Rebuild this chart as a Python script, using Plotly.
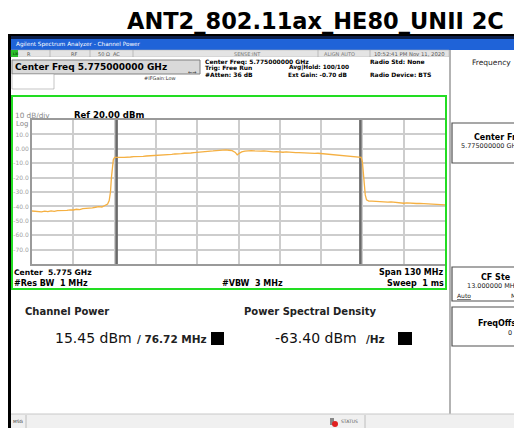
import plotly.graph_objects as go

# The page body has an 8px margin, so the figure is drawn 8px in from the
# window's top-left corner; all layout numbers below are window pixels.
OFF = 8
W, H = 522 - OFF, 428 - OFF

# ---------------- data ----------------
start_ghz = 5.710
stop_ghz = 5.840
center_ghz = 5.775
integ_bw_mhz = 76.72
ref_level = 20
bottom_level = -80

freq_offset_mhz = [
    0, 1, 2, 3, 4, 5, 6, 7, 8, 9, 10, 11, 12, 13, 14, 15, 16, 17, 18, 19, 20,
    21, 22, 23, 23.8, 24.3, 24.7, 25.0, 25.3, 25.6, 26.0, 27, 28, 29, 30, 31,
    32, 33, 34, 35, 36, 37, 38, 39, 40, 41, 42, 43, 44, 45, 46, 47, 48, 49, 50,
    51, 52, 53, 54, 55, 56, 57, 58, 59, 60, 61, 62, 63, 64, 64.6, 65.2, 66, 67,
    68, 69, 70, 71, 72, 73, 74, 75, 76, 77, 78, 79, 80, 81, 82, 83, 84, 85, 86,
    87, 88, 89, 90, 91, 92, 93, 94, 95, 96, 97, 98, 99, 100, 101, 102, 103,
    103.6, 104.0, 104.3, 104.6, 104.9, 105.3, 106, 107, 108, 109, 110, 111,
    112, 113, 114, 115, 116, 117, 118, 119, 120, 121, 122, 123, 124, 125, 126,
    127, 128, 129, 130,
]
level_dbm = [
    -43.2, -43.5, -43.4, -43.8, -43.3, -43.6, -43.1, -43.4, -42.9, -43.0,
    -42.6, -42.8, -42.4, -42.5, -42.0, -42.2, -41.6, -41.4, -41.7, -41.0,
    -40.6, -40.2, -40.4, -39.3, -38.4, -36.0, -30.0, -20.0, -12.0, -7.5,
    -6.0, -6.2, -5.9, -6.0, -5.6, -5.7, -5.4, -5.5, -5.2, -5.3, -5.0, -4.9,
    -4.8, -4.5, -4.6, -4.3, -4.2, -4.0, -3.9, -3.6, -3.7, -3.3, -3.1, -3.2,
    -2.9, -2.6, -2.5, -2.2, -2.0, -1.9, -1.6, -1.5, -1.2, -1.0, -1.1, -0.8,
    -1.0, -1.3, -2.5, -4.2, -3.2, -2.2, -1.6, -1.3, -1.2, -1.5, -1.3, -1.6,
    -1.5, -1.8, -1.9, -2.1, -2.0, -2.3, -2.4, -2.2, -2.5, -2.4, -2.7, -2.6,
    -2.8, -2.7, -3.0, -2.9, -3.2, -3.1, -3.3, -3.4, -3.6, -3.8, -3.9, -4.1,
    -4.3, -4.4, -4.6, -4.8, -5.0, -5.2, -5.5, -6.0, -9.0, -16.0, -25.0,
    -32.0, -35.5, -36.3, -36.4, -36.6, -36.5, -36.8, -36.7, -37.0, -36.9,
    -37.2, -37.1, -37.4, -37.8, -37.6, -37.9, -37.8, -38.0, -37.9, -38.1,
    -38.3, -38.2, -38.5, -38.4, -38.7, -38.9, -39.0,
]
ytick_vals = [10, 0, -10, -20, -30, -40, -50, -60, -70]
ytick_text = ["10.0", "0.00", "-10.0", "-20.0", "-30.0", "-40.0", "-50.0", "-60.0", "-70.0"]
n_xdiv = 10

freq_ghz = [start_ghz + f / 1000.0 for f in freq_offset_mhz]
xgrid = [start_ghz + i * (stop_ghz - start_ghz) / n_xdiv for i in range(n_xdiv + 1)]

FONT = "DejaVu Sans"

# ---------------- helpers (window pixel -> paper) ----------------
def X(px):
    return (px - OFF) / W


def Y(py):
    return 1 - (py - OFF) / H


shapes = []
annotations = []


def rect(x0, y0, x1, y1, fill="rgba(0,0,0,0)", line=None, lw=1, layer="below"):
    shapes.append(dict(
        type="rect", xref="paper", yref="paper",
        x0=X(x0), x1=X(x1), y0=Y(y1), y1=Y(y0),
        fillcolor=fill, layer=layer,
        line=dict(color=line if line else "rgba(0,0,0,0)", width=lw if line else 0),
    ))


def hline(x0, x1, y, color, lw=1, layer="below"):
    shapes.append(dict(type="line", xref="paper", yref="paper",
                       x0=X(x0), x1=X(x1), y0=Y(y), y1=Y(y),
                       line=dict(color=color, width=lw), layer=layer))


def vline(x, y0, y1, color, lw=1, layer="below"):
    shapes.append(dict(type="line", xref="paper", yref="paper",
                       x0=X(x), x1=X(x), y0=Y(y0), y1=Y(y1),
                       line=dict(color=color, width=lw), layer=layer))


def text(x, y, s, size=7, color="#000000", anchor="left", bold=False,
         family=FONT):
    annotations.append(dict(
        x=X(x), y=Y(y), xref="paper", yref="paper",
        text=("<b>" + s + "</b>") if bold else s,
        showarrow=False, xanchor=anchor, yanchor="middle",
        borderpad=0, font=dict(size=size, color=color, family=family),
    ))


# ---------------- window chrome ----------------
# title
text(315, 21.5, "ANT2_802.11ax_HE80_UNII 2C", size=22.5, bold=True,
     anchor="center")
rect(8, 34, 522, 36, fill="#000000")
# left black frame
rect(8, 36, 11, 428, fill="#000000")
# title bar
rect(11, 36, 522, 39, fill="#0b1f4a")
rect(11, 39, 522, 50, fill="#1f63d8")
text(15, 44.5, "Agilent Spectrum Analyzer - Channel Power", size=5.7, color="#ffffff")
# status row
rect(11, 50, 449, 57, fill="#e4e4e4", line="#b0b0b0", lw=0.5)
rect(11, 50, 18, 57, fill="#2bbf2b")
text(12, 53.5, "LXI", size=3.5, color="#000000")
for sx in [50, 90, 133, 318, 370]:
    vline(sx, 50, 57, "#a0a0a0", 0.6)
text(26, 53.5, "R", size=5, color="#555555")
text(70, 53.5, "RF", size=5, color="#555555")
text(97, 53.5, "50 Ω  AC", size=5, color="#555555")
text(233, 53.5, "SENSE:INT", size=5, color="#777777")
text(323, 53.5, "ALIGN AUTO", size=5, color="#777777")
text(373, 53.5, "10:52:41 PM Nov 11, 2020", size=5.3, color="#555555")

# main white work area
rect(11, 57, 449, 414, fill="#ffffff")

# Center freq box
rect(12, 60, 200, 74, fill="#d9d9d9", line="#808080", lw=1)
text(14, 67, "Center Freq 5.775000000 GHz", size=9, bold=True)
rect(12, 74, 54, 89, fill="#ffffff", line="#a0a0a0", lw=0.6)
text(143, 78, "#IFGain:Low", size=5, color="#333333")
text(187, 72, "\u2190\u2192", size=5, color="#333333")

text(204, 61.5, "Center Freq: 5.775000000 GHz", size=6, bold=True)
text(204, 68, "Trig: Free Run", size=6, bold=True)
text(204, 74.5, "#Atten: 36 dB", size=6, bold=True)
text(288, 68, "Avg|Hold: 100/100", size=5.8, bold=True)
text(287, 74.5, "Ext Gain: -0.70 dB", size=5.8, bold=True)
text(369, 61.5, "Radio Std: None", size=6, bold=True)
text(369, 74.5, "Radio Device: BTS", size=6, bold=True)

# right soft-key panel
rect(449, 50, 522, 416, fill="#ffffff")
vline(450, 50, 416, "#9a9a9a", 1.5)
hline(450, 522, 416, "#9a9a9a", 1.5)
text(491, 63, "Frequency", size=7.5, color="#222222", anchor="center")
for (by0, by1) in [(123, 163), (267, 301), (307, 346)]:
    rect(452, by0, 524, by1, fill="#ffffff", line="#505050", lw=1.2)
text(473, 137, "Center Fre", size=8, bold=True)
text(460, 146, "5.775000000 GH", size=6.5, color="#222222")
text(480, 277, "CF Ste", size=8, bold=True)
text(466, 286, "13.000000 MH", size=6.5, color="#222222")
text(456, 295, "<u>Auto</u>", size=6, color="#222222")
text(510, 295, "Ma", size=6, color="#222222")
text(477, 323, "FreqOffse", size=8, bold=True)
text(507, 333, "0 H", size=6.5, color="#222222")

# bottom status bar
rect(11, 414, 522, 428, fill="#f0f0f0")
hline(11, 522, 414, "#c8c8c8", 1)
vline(26, 415, 428, "#b0b0b0", 0.8)
vline(365, 415, 428, "#b0b0b0", 0.8)
text(12, 421, "MSG", size=4.3, color="#333333")
rect(330, 418, 334, 425, fill="#888888")
shapes.append(dict(type="circle", xref="paper", yref="paper",
                   x0=X(332), x1=X(338), y0=Y(427), y1=Y(421),
                   fillcolor="#e02020", line=dict(width=0), layer="above"))
text(340, 421, "STATUS", size=4.5, color="#555555")

# green graticule frame
rect(12, 96, 446, 289, line="#22dd22", lw=2, layer="above")

# graticule captions
text(14, 115, "10 dB/div", size=7.3, color="#8a8a8a")
text(73, 115, "Ref 20.00 dBm", size=8.5, bold=True)
text(15, 124, "Log", size=7, color="#8a8a8a")
text(13, 272, "Center  5.775 GHz", size=7.6, bold=True)
text(13, 283, "#Res BW  1 MHz", size=8, bold=True)
text(252, 283, "#VBW  3 MHz", size=8, bold=True, anchor="center")
text(445, 272, "Span 130 MHz", size=8, bold=True, anchor="right")
text(445, 283, "Sweep  1 ms", size=8, bold=True, anchor="right")

# measurement results
text(24, 311, "Channel Power", size=10, bold=True, color="#222222")
text(54, 338, "15.45 dBm", size=14, color="#111111")
text(136, 339, "/ 76.72 MHz", size=10.5, bold=True, color="#222222")
rect(211, 332, 224, 345, fill="#000000", layer="above")
text(243, 311, "Power Spectral Density", size=10, bold=True, color="#222222")
text(274, 338, "-63.40 dBm", size=14, color="#111111")
text(365, 339, "/Hz", size=10.5, bold=True, color="#222222")
rect(398, 332, 412, 345, fill="#000000", layer="above")

# ---------------- traces ----------------
fig = go.Figure()
half_bw = integ_bw_mhz / 2000.0
for edge in [center_ghz - half_bw, center_ghz + half_bw]:
    fig.add_trace(go.Scatter(
        x=[edge, edge], y=[bottom_level, ref_level], mode="lines",
        line=dict(color="#6a6a6a", width=2.5), hoverinfo="skip", showlegend=False,
    ))
fig.add_trace(go.Scatter(
    x=freq_ghz, y=level_dbm, mode="lines",
    line=dict(color="#f5b042", width=1.3), showlegend=False,
))

fig.update_layout(
    width=W, height=H, autosize=False,
    margin=dict(l=0, r=0, t=0, b=0, pad=0),
    paper_bgcolor="#ffffff", plot_bgcolor="#ffffff",
    shapes=shapes, annotations=annotations,
    xaxis=dict(
        domain=[X(32), X(445)], range=[start_ghz, stop_ghz],
        tickmode="array", tickvals=xgrid, showticklabels=False, ticks="",
        showgrid=True, gridcolor="#cdcdcd", gridwidth=2,
        showline=True, linecolor="#9a9a9a", linewidth=2, mirror=True,
        zeroline=False, fixedrange=True,
    ),
    yaxis=dict(
        domain=[Y(264), Y(120)], range=[bottom_level, ref_level],
        tickmode="array", tickvals=ytick_vals, ticktext=ytick_text,
        tickfont=dict(size=6, color="#a0a0a0", family=FONT),
        ticks="", showgrid=True, gridcolor="#cdcdcd", gridwidth=2,
        showline=True, linecolor="#9a9a9a", linewidth=2, mirror=True,
        zeroline=False, fixedrange=True,
    ),
)

fig.write_html("out.html")
